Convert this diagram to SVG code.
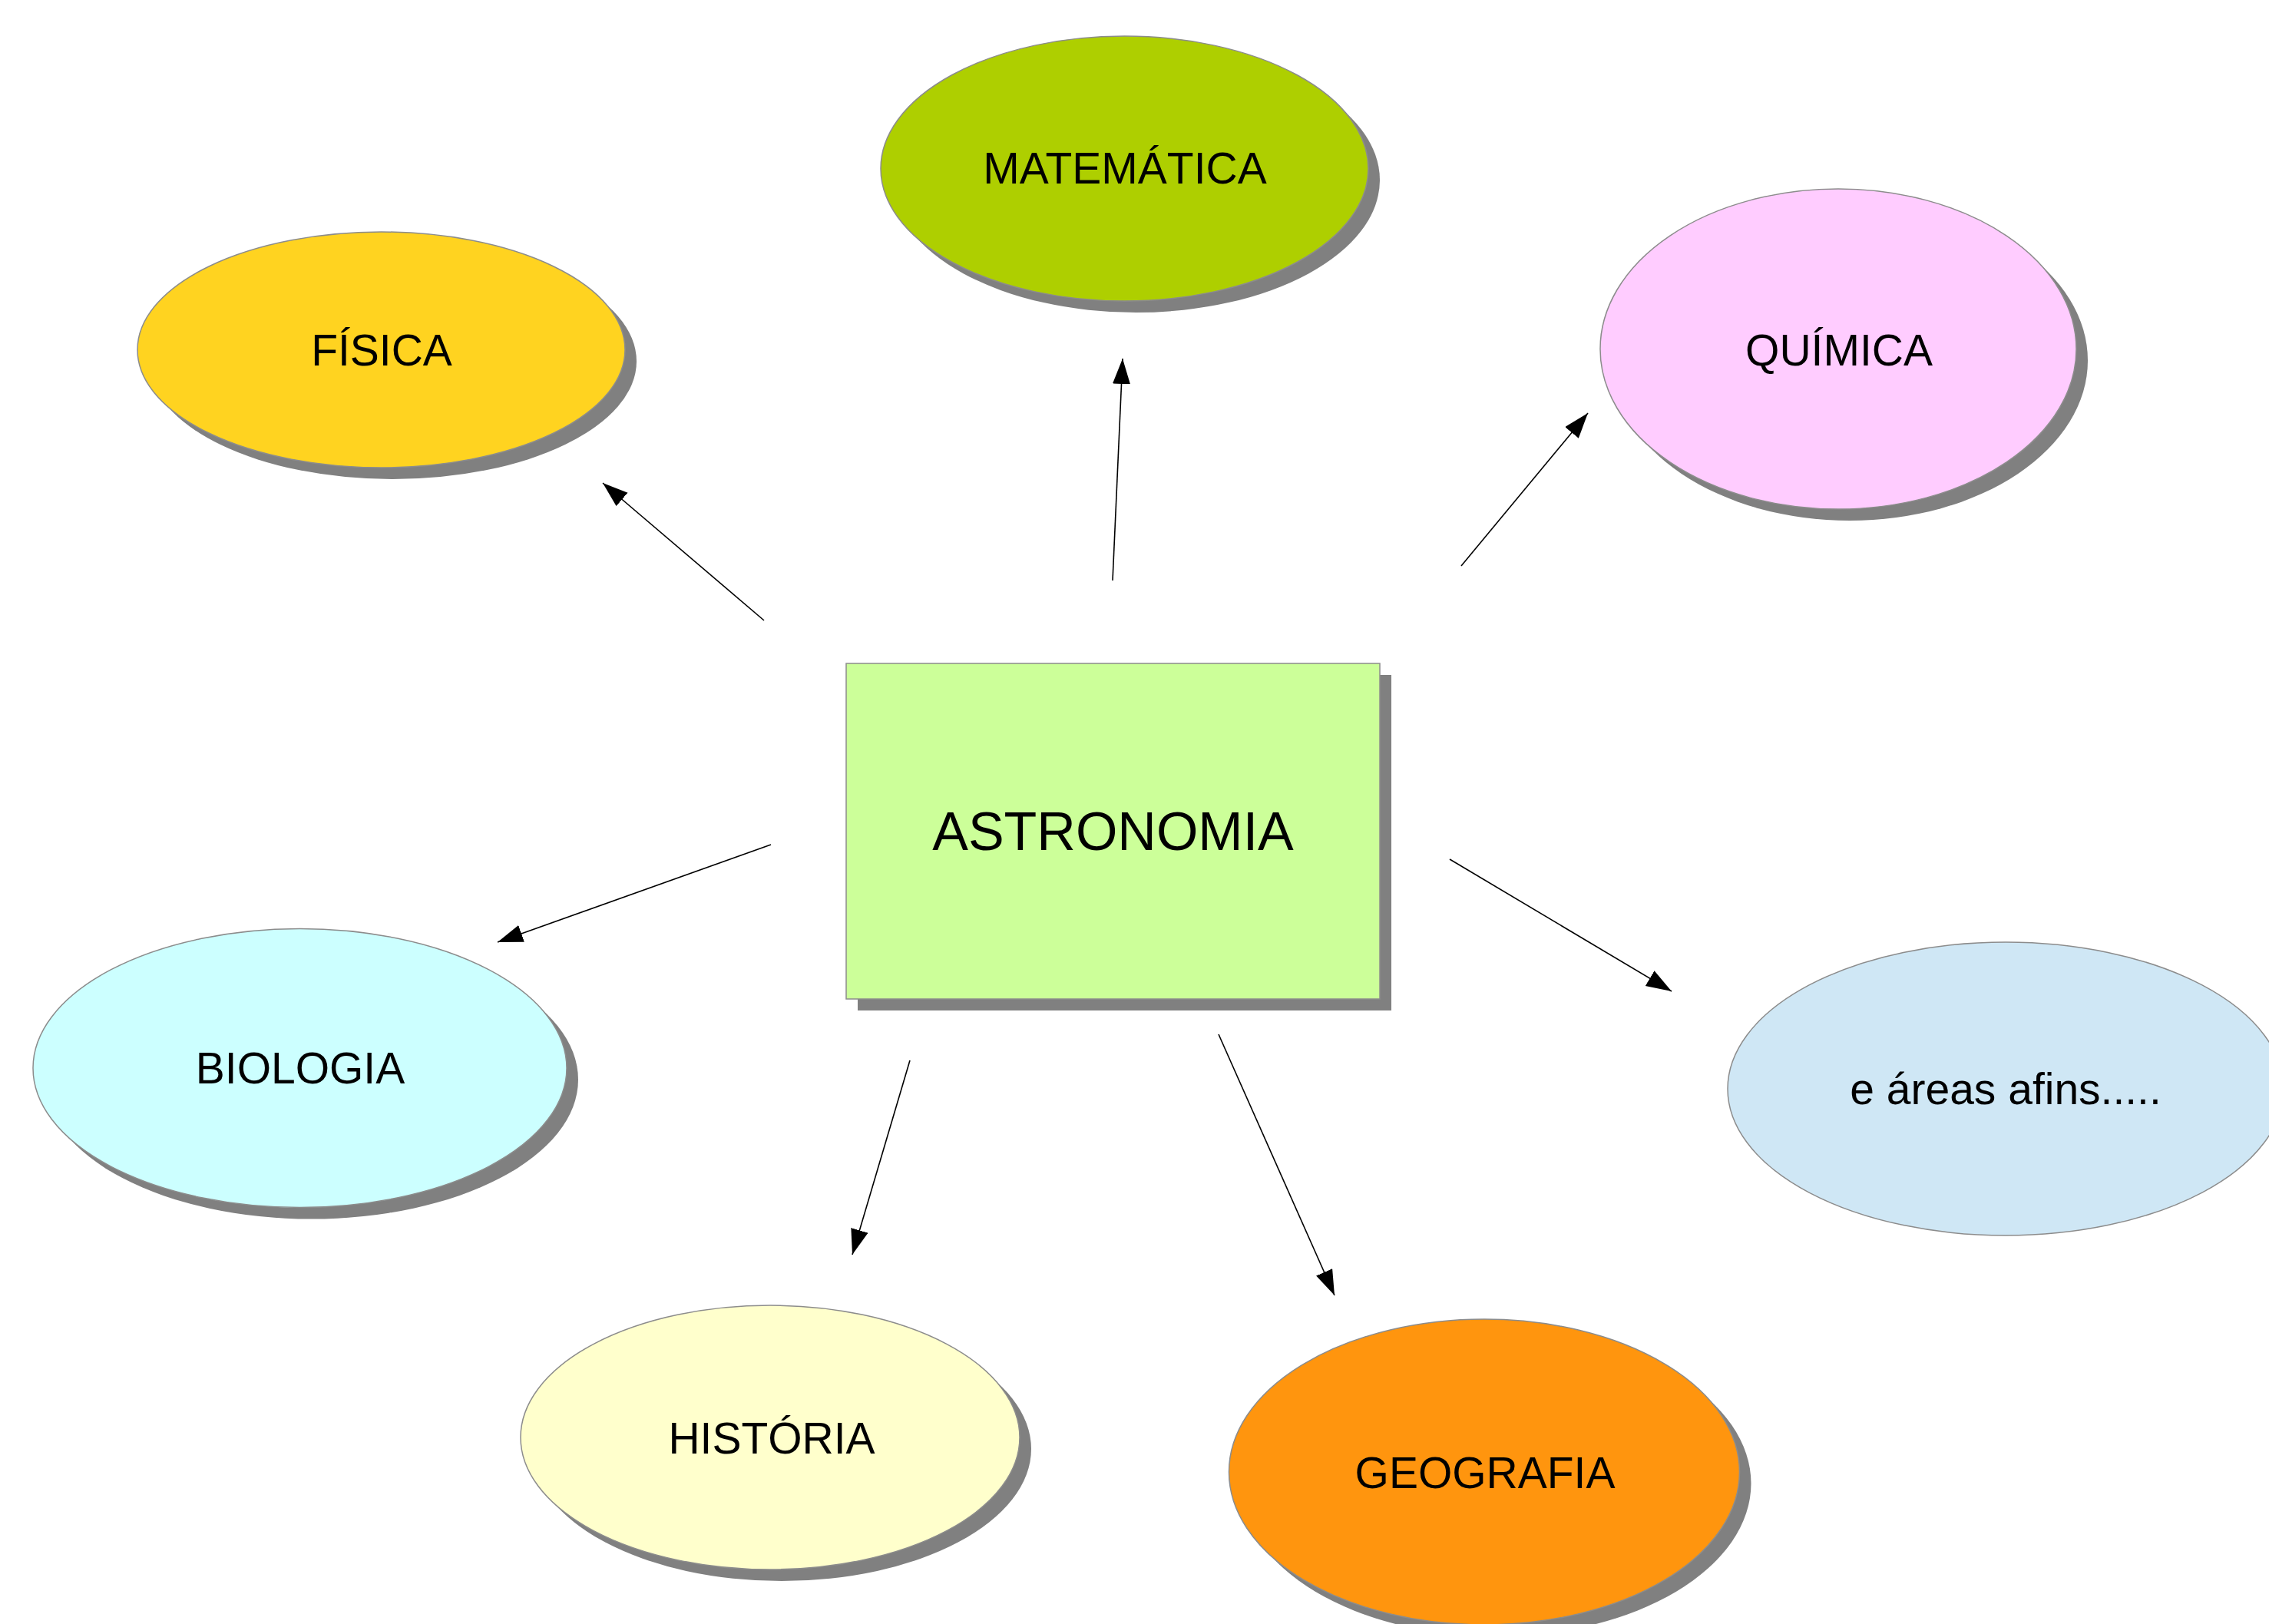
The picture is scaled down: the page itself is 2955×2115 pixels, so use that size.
<svg xmlns="http://www.w3.org/2000/svg" width="2955" height="2115" viewBox="0 0 2955 2115">
<style>
.shadow{fill:#808080;stroke:none}
.node{stroke:#8c8c8c;stroke-width:1.5}
.lbl{font-family:"Liberation Sans",Arial,sans-serif;font-size:57px;fill:#000;text-anchor:middle}
.big{font-size:70px}
.conn{stroke:#000;stroke-width:1.6;fill:none;marker-end:url(#ah)}
</style>
<defs>
<marker id="ah" markerUnits="userSpaceOnUse" markerWidth="34" markerHeight="24" refX="33" refY="11.5" orient="auto">
<path d="M0,0 L33,11.5 L0,23 z" fill="#000"/>
</marker>
</defs>
<rect width="2955" height="2115" fill="#fff"/>

<g id="matematica">
<ellipse class="shadow" cx="1479.5" cy="234.5" rx="317.5" ry="172.5"/>
<ellipse class="node" cx="1464.5" cy="219.5" rx="317.5" ry="172.5" fill="#aecf00"/>
<text class="lbl" x="1465" y="239">MATEMÁTICA</text>
</g>

<g id="fisica">
<ellipse class="shadow" cx="511.5" cy="470.5" rx="317.5" ry="153.5"/>
<ellipse class="node" cx="496.5" cy="455.5" rx="317.5" ry="153.5" fill="#ffd320"/>
<text class="lbl" x="497" y="476">FÍSICA</text>
</g>

<g id="quimica">
<ellipse class="shadow" cx="2409" cy="469.5" rx="310" ry="208.5"/>
<ellipse class="node" cx="2394" cy="454.5" rx="310" ry="208.5" fill="#ffccff"/>
<text class="lbl" x="2395" y="476">QUÍMICA</text>
</g>

<g id="astronomia">
<rect class="shadow" x="1117" y="879" width="695" height="437"/>
<rect class="node" x="1102" y="864" width="695" height="437" fill="#ccff99"/>
<text class="lbl big" x="1449.5" y="1107">ASTRONOMIA</text>
</g>

<g id="biologia">
<ellipse class="shadow" cx="405.5" cy="1406" rx="347.5" ry="181.5"/>
<ellipse class="node" cx="390.5" cy="1391" rx="347.5" ry="181.5" fill="#ccffff"/>
<text class="lbl" x="391" y="1411">BIOLOGIA</text>
</g>

<g id="areas-afins">
<ellipse class="node" cx="2612" cy="1418" rx="362" ry="191" fill="#cfe7f5"/>
<text class="lbl" x="2612" y="1438">e áreas afins.....</text>
</g>

<g id="historia">
<ellipse class="shadow" cx="1018" cy="1887" rx="325" ry="172"/>
<ellipse class="node" cx="1003" cy="1872" rx="325" ry="172" fill="#ffffcc"/>
<text class="lbl" x="1005" y="1893">HISTÓRIA</text>
</g>

<g id="geografia">
<ellipse class="shadow" cx="1948" cy="1932" rx="332.5" ry="199"/>
<ellipse class="node" cx="1933" cy="1917" rx="332.5" ry="199" fill="#ff950e"/>
<text class="lbl" x="1934" y="1938">GEOGRAFIA</text>
</g>

<g id="connectors">
<line class="conn" x1="995" y1="808" x2="785" y2="629"/>
<line class="conn" x1="1449" y1="756" x2="1462" y2="467"/>
<line class="conn" x1="1903" y1="737" x2="2068" y2="538"/>
<line class="conn" x1="1004" y1="1100" x2="648" y2="1227"/>
<line class="conn" x1="1888" y1="1119" x2="2177" y2="1291"/>
<line class="conn" x1="1185" y1="1381" x2="1110" y2="1634"/>
<line class="conn" x1="1587" y1="1347" x2="1738" y2="1687"/>
</g>
</svg>
